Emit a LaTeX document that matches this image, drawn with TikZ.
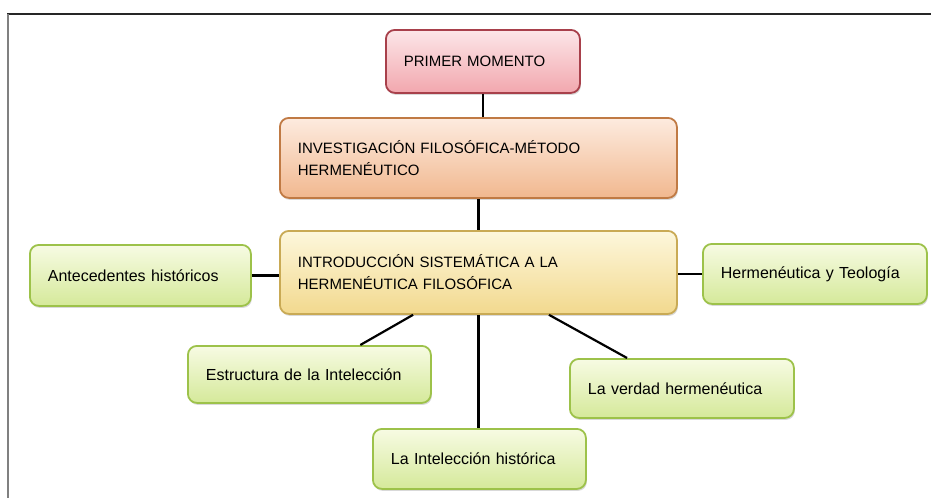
\documentclass[tikz,border=0pt]{standalone}
\usepackage{fontspec}
\setmainfont{Liberation Sans}
\usetikzlibrary{shadows}

\definecolor{pinkline}{HTML}{A8404B}
\definecolor{pinktop}{HTML}{FCE6E8}
\definecolor{pinkbot}{HTML}{F2A7AE}
\definecolor{orangeline}{HTML}{C07A44}
\definecolor{orangetop}{HTML}{FDEBDF}
\definecolor{orangebot}{HTML}{F1B88F}
\definecolor{yellowline}{HTML}{C9AA55}
\definecolor{yellowtop}{HTML}{FDF7DC}
\definecolor{yellowbot}{HTML}{F2D98E}
\definecolor{greenline}{HTML}{9DC24A}
\definecolor{greentop}{HTML}{F7FBE3}
\definecolor{greenbot}{HTML}{D5E99A}

\tikzset{
  mapbox/.style={draw, line width=1.8pt, rounded corners=9pt, anchor=north west,
    inner xsep=18pt, inner ysep=0pt, align=left,
    drop shadow={shadow xshift=1pt, shadow yshift=-2pt, opacity=.3}},
  capsbox/.style={mapbox, font=\fontsize{15}{22}\selectfont},
  topicbox/.style={mapbox, draw=greenline, top color=greentop, bottom color=greenbot,
    font=\fontsize{16}{20}\selectfont},
  link/.style={line width=2.2pt, black}
}

\begin{document}
\begin{tikzpicture}[x=1pt,y=-1pt]
  \useasboundingbox (0,0) rectangle (931,498);
  % frame
  \draw[line width=2pt, black!85] (7,14) -- (931,14);
  \draw[line width=2pt, black!50] (8,14) -- (8,498);

  % main column
  \node[capsbox, draw=pinkline, top color=pinktop, bottom color=pinkbot,
        text width=158pt, minimum height=63pt] (pm) at (385,29) {PRIMER MOMENTO};
  \node[capsbox, draw=orangeline, top color=orangetop, bottom color=orangebot,
        text width=361pt, minimum height=80pt] (inv) at (279,117)
        {INVESTIGACIÓN FILOSÓFICA-MÉTODO\\HERMENÉUTICO};
  \node[capsbox, draw=yellowline, top color=yellowtop, bottom color=yellowbot,
        text width=361pt, minimum height=83pt] (intro) at (279,230)
        {INTRODUCCIÓN SISTEMÁTICA A LA\\HERMENÉUTICA FILOSÓFICA};

  % topics
  \node[topicbox, text width=185pt, minimum height=61pt] (ante) at (29,244)
        {Antecedentes históricos};
  \node[topicbox, text width=188pt, minimum height=60pt] (herm) at (702,243)
        {Hermenéutica y Teología};
  \node[topicbox, text width=207pt, minimum height=57pt] (estr) at (187,345)
        {Estructura de la Intelección};
  \node[topicbox, text width=188pt, minimum height=59pt] (verd) at (569,358)
        {La verdad hermenéutica};
  \node[topicbox, text width=177pt, minimum height=60pt] (intel) at (372,428)
        {La Intelección histórica};

  % connectors
  \draw[link] (pm.south) -- (pm.south |- inv.north);
  \draw[link] (inv.south) -- (inv.south |- intro.north);
  \draw[link] (ante.east) -- (ante.east -| intro.west);
  \draw[link] (herm.west) -- (herm.west -| intro.east);
  \draw[link] (intro.213) -- (estr.30);
  \draw[link] (intro.south) -- (intro.south |- intel.north);
  \draw[link] (intro.-31) -- (verd.151);
\end{tikzpicture}
\end{document}
